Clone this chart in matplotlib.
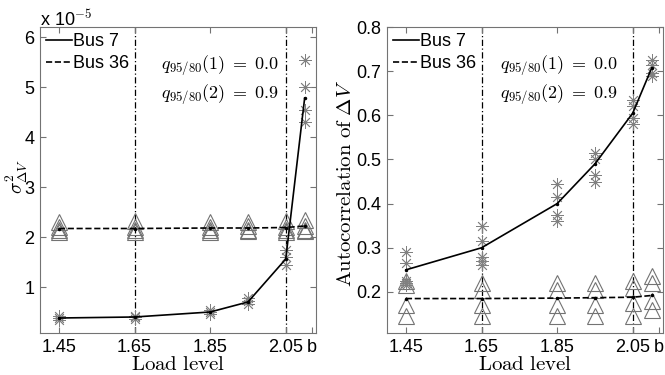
import numpy as np
import matplotlib
matplotlib.use("Agg")
import matplotlib.pyplot as plt

plt.rcParams['font.family'] = ['Liberation Sans', 'DejaVu Sans']
plt.rcParams['mathtext.fontset'] = 'cm'

# load levels (the last one is the "b" case)
x_levels = [1.45, 1.65, 1.85, 1.95, 2.05, 2.10]
tick_pos = [1.45, 1.65, 1.85, 2.05, 2.12]
tick_lab = ['1.45', '1.65', '1.85', '2.05', 'b']
vlines_x = [1.65, 2.05]

# variance (units of 1e-5)
var_bus7 = [0.38, 0.40, 0.50, 0.70, 1.56, 4.78]
var_bus36 = [2.17, 2.17, 2.18, 2.18, 2.19, 2.22]
var_bus7_runs = [
    [0.34, 0.38, 0.42],
    [0.36, 0.40, 0.43],
    [0.47, 0.50, 0.54],
    [0.66, 0.72, 0.78],
    [1.45, 1.60, 1.75],
    [4.30, 4.55, 5.00, 5.55],
]
var_bus36_runs = [
    [2.10, 2.20, 2.30, 2.15],
    [2.10, 2.20, 2.32, 2.15],
    [2.10, 2.20, 2.30, 2.15],
    [2.12, 2.22, 2.30, 2.15],
    [2.10, 2.20, 2.32, 2.15],
    [2.12, 2.22, 2.35, 2.15],
]

# autocorrelation
ac_bus7 = [0.25, 0.30, 0.40, 0.49, 0.605, 0.707]
ac_bus36 = [0.185, 0.185, 0.186, 0.187, 0.188, 0.192]
ac_bus7_runs = [
    [0.29, 0.265, 0.225, 0.22, 0.215],
    [0.35, 0.315, 0.28, 0.27, 0.26],
    [0.445, 0.415, 0.375, 0.36],
    [0.515, 0.50, 0.465, 0.45],
    [0.635, 0.62, 0.595, 0.58],
    [0.725, 0.715, 0.695, 0.69],
]
ac_bus36_runs = [
    [0.225, 0.215, 0.17, 0.145],
    [0.22, 0.205, 0.17, 0.145],
    [0.22, 0.205, 0.17, 0.145],
    [0.22, 0.205, 0.17, 0.145],
    [0.225, 0.21, 0.175, 0.145],
    [0.235, 0.22, 0.18, 0.16],
]

q_text = '$q_{95/80}(1)\\;=\\;0.0$\n$q_{95/80}(2)\\;=\\;0.9$'

fig = plt.figure(figsize=(6.65, 3.75), dpi=100)
ax1 = fig.add_axes([40/665, 42/375, 276/665, 306/375])
ax2 = fig.add_axes([387/665, 42/375, 276/665, 306/375])

grey = '0.45'
star = (8, 2, 0)


def draw(ax, b7, b36, runs7, runs36):
    for xv in vlines_x:
        ax.axvline(xv, color='k', ls=(0, (5, 2, 1, 2)), lw=0.9, zorder=1)
    for xv, r in zip(x_levels, runs36):
        ax.plot([xv]*len(r), r, ls='none', marker='^', ms=11, mfc='none',
                mec=grey, mew=0.8, zorder=2)
    for xv, r in zip(x_levels, runs7):
        ax.plot([xv]*len(r), r, ls='none', marker=star, ms=9,
                mec='0.5', mew=0.6, zorder=2)
    ax.plot(x_levels, b7, 'k-', lw=1.2, marker='.', ms=3, zorder=3)
    ax.plot(x_levels, b36, 'k--', lw=1.2, marker='.', ms=3, zorder=3)
    ax.legend(handles=[plt.Line2D([], [], color='k', lw=1.2, ls='-'),
                       plt.Line2D([], [], color='k', lw=1.2, ls='--')],
              labels=['Bus 7', 'Bus 36'], loc='upper left', frameon=False,
              fontsize=13, handlelength=1.4, handletextpad=0.1,
              borderaxespad=0.15, borderpad=0.2, labelspacing=0.25)
    ax.set_xlim(1.40, 2.13)
    ax.set_xticks(tick_pos)
    ax.set_xticklabels(tick_lab)
    ax.tick_params(direction='in', top=True, right=True, color=grey,
                   labelsize=13, length=4, pad=4)
    for s in ax.spines.values():
        s.set_color(grey)
    ax.set_xlabel(r'$\mathrm{Load\ level}$', fontsize=15)
    ax.xaxis.set_label_coords(0.5, -0.072)


draw(ax1, var_bus7, var_bus36, var_bus7_runs, var_bus36_runs)
ax1.set_ylim(0.08, 6.2)
ax1.set_yticks([1, 2, 3, 4, 5, 6])
ax1.set_ylabel(r'$\sigma^2_{\Delta V}$', fontsize=14)
ax1.yaxis.set_label_coords(-0.038, 0.51)
ax1.text(0.865, 0.915, q_text, transform=ax1.transAxes, ha='right', va='top',
         fontsize=13, linespacing=1.35)
fig.text(40/665, 1 - 19/375, r'x 10$^{-5}$', fontsize=13, va='center',
         ha='left')

draw(ax2, ac_bus7, ac_bus36, ac_bus7_runs, ac_bus36_runs)
ax2.set_ylim(0.107, 0.8)
ax2.set_yticks([0.2, 0.3, 0.4, 0.5, 0.6, 0.7, 0.8])
ax2.set_ylabel(r'$\mathrm{Autocorrelation\ of\ }\Delta V$', fontsize=15)
ax2.yaxis.set_label_coords(-0.116, 0.49)
ax2.text(0.835, 0.915, q_text, transform=ax2.transAxes, ha='right', va='top',
         fontsize=13, linespacing=1.35)

fig.savefig('out.png', dpi=100)
